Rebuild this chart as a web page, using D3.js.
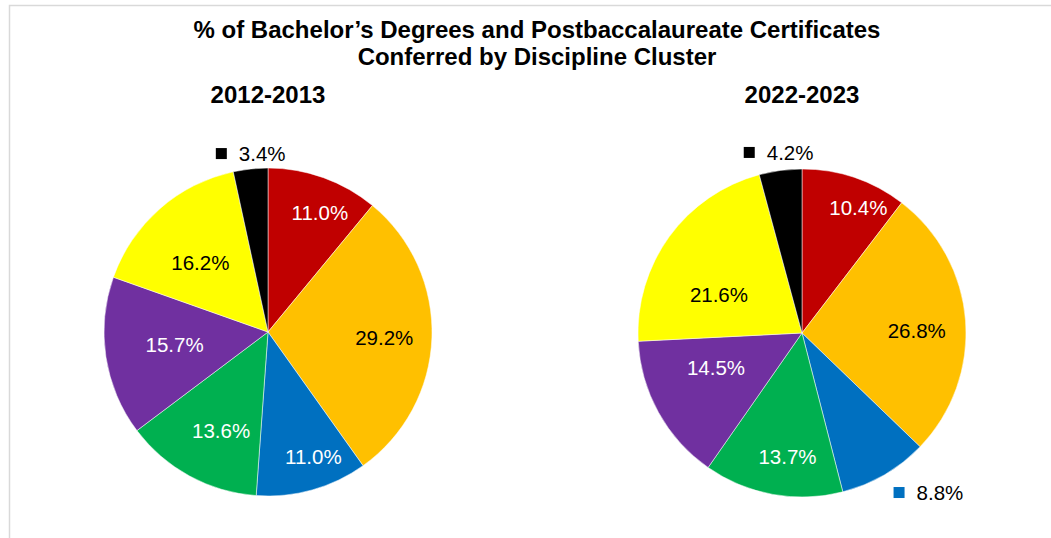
<!DOCTYPE html>
<html>
<head>
<meta charset="utf-8">
<script src="https://cdn.jsdelivr.net/npm/d3@7"></script>
<style>
  html, body { margin: 0; padding: 0; background: #fff; }
  svg { display: block; font-family: "Liberation Sans", Arial, sans-serif; }
</style>
</head>
<body>
<svg id="chart" width="1051" height="538"></svg>
<script>
// Discipline clusters, in drawing order (clockwise from 12 o'clock)
const clusters = ["Cluster 1", "Cluster 2", "Cluster 3", "Cluster 4", "Cluster 5", "Cluster 6", "Cluster 7"];
const clusterColors = ["#C00000", "#FFC000", "#0070C0", "#00B050", "#7030A0", "#FFFF00", "#000000"];

// Share of degrees and certificates conferred (%)
const values2012 = [11.0, 29.2, 11.0, 13.6, 15.7, 16.2, 3.4];
const values2022 = [10.4, 26.8, 8.8, 13.7, 14.5, 21.6, 4.2];

const yearLabels = ["2012-2013", "2022-2023"];
const titleLines = ["% of Bachelor\u2019s Degrees and Postbaccalaureate Certificates",
                    "Conferred by Discipline Cluster"];

// Label placement: radial distance (fraction of radius), angle nudge (deg), outside flag
const labelLayout2012 = [
  { r: 0.79, da: 3.8,  out: false }, { r: 0.71, da: 0.9, out: false },
  { r: 0.81, da: -4.3, out: false }, { r: 0.67, da: -3.3, out: false },
  { r: 0.575, da: 1.0, out: false }, { r: 0.59, da: -3.0, out: false },
  { r: 1.09, da: 0.6,  out: true }
];
const labelLayout2022 = [
  { r: 0.834, da: 5.6, out: false }, { r: 0.70, da: 3.2, out: false },
  { r: 1.244, da: -8.1, out: true }, { r: 0.763, da: -3.6, out: false },
  { r: 0.567, da: 6.7, out: false }, { r: 0.557, da: -11.4, out: false },
  { r: 1.107, da: 0.2, out: true }
];

const svg = d3.select("#chart");

// Outer frame
svg.append("rect")
  .attr("x", 9.5).attr("y", 5.5)
  .attr("width", 1060).attr("height", 560)
  .attr("fill", "none").attr("stroke", "#d9d9d9").attr("stroke-width", 1.5);

// Title
svg.append("g").selectAll("text")
  .data(titleLines).join("text")
  .attr("x", 537).attr("y", (d, i) => 38 + i * 27)
  .attr("text-anchor", "middle")
  .attr("font-size", 24).attr("font-weight", "bold").attr("fill", "#000")
  .text(d => d);

const radius = 164;
const color = d3.scaleOrdinal().domain(clusters).range(clusterColors);
const pie = d3.pie().sort(null).value(d => d.value);
const arc = d3.arc().innerRadius(0).outerRadius(radius);

const darkText = new Set(["#FFC000", "#FFFF00"]);

function drawPie(cx, cy, values, layout, yearLabel) {
  const g = svg.append("g").attr("transform", `translate(${cx},${cy})`);
  const data = clusters.map((c, i) => ({ cluster: c, value: values[i], layout: layout[i] }));
  const arcs = pie(data);

  g.selectAll("path").data(arcs).join("path")
    .attr("d", arc)
    .attr("fill", d => color(d.data.cluster))
    .attr("stroke", "#fff").attr("stroke-width", 0.5);

  svg.append("text")
    .attr("x", cx).attr("y", 103)
    .attr("text-anchor", "middle")
    .attr("font-size", 24).attr("font-weight", "bold")
    .text(yearLabel);

  arcs.forEach(d => {
    const L = d.data.layout;
    const mid = (d.startAngle + d.endAngle) / 2 + L.da * Math.PI / 180;
    const rr = radius * L.r;
    const x = rr * Math.sin(mid), y = -rr * Math.cos(mid);
    const txt = d.data.value.toFixed(1) + "%";
    if (!L.out) {
      const c = color(d.data.cluster);
      g.append("text")
        .attr("x", x).attr("y", y + 7)
        .attr("text-anchor", "middle")
        .attr("font-size", 20.5)
        .attr("fill", darkText.has(c) ? "#000" : "#fff")
        .text(txt);
    } else {
      const lg = g.append("g").attr("transform", `translate(${x},${y})`);
      lg.append("rect")
        .attr("x", -35).attr("y", -6).attr("width", 11).attr("height", 11)
        .attr("fill", color(d.data.cluster));
      lg.append("text")
        .attr("x", -12).attr("y", 7)
        .attr("font-size", 20.5).attr("fill", "#000")
        .text(txt);
    }
  });
}

drawPie(268, 332, values2012, labelLayout2012, yearLabels[0]);
drawPie(802, 333, values2022, labelLayout2022, yearLabels[1]);
</script>
</body>
</html>
